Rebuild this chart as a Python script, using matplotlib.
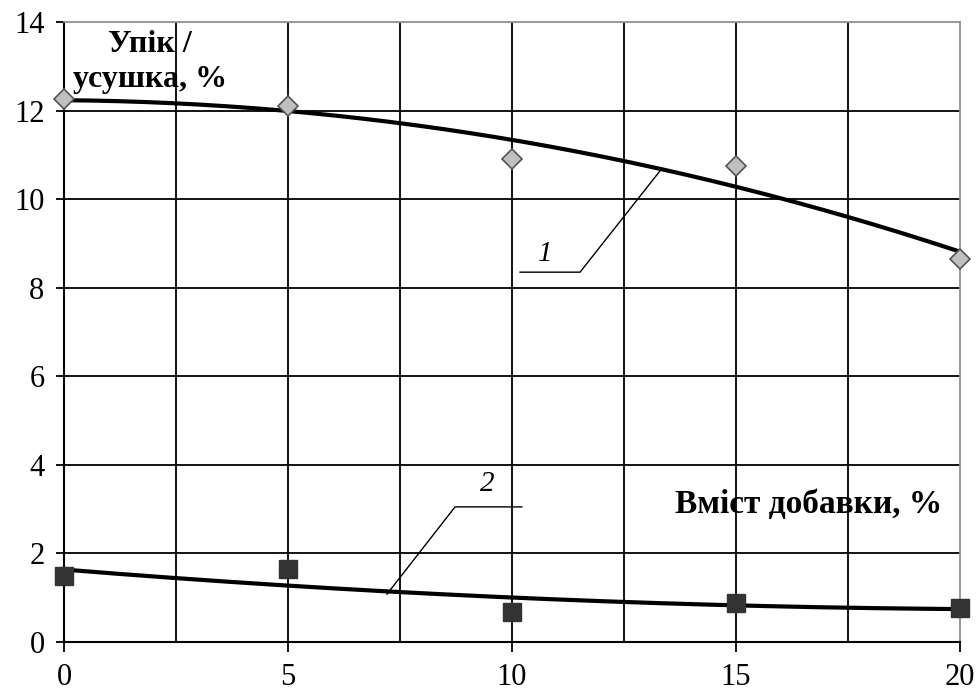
import numpy as np
import matplotlib.pyplot as plt

plt.rcParams['font.family'] = ['Liberation Serif', 'DejaVu Serif']

dobavka = [0, 5, 10, 15, 20]
upik = [12.25, 12.1, 10.9, 10.75, 8.65]
usushka = [1.5, 1.65, 0.68, 0.88, 0.77]

fig = plt.figure(figsize=(9.77, 6.92), dpi=100)
ax = fig.add_axes([0.0655, 0.0723, 0.917, 0.896])

# grid
for yy in np.arange(2, 14, 2):
	ax.axhline(yy, color='black', lw=1.3, zorder=1)
for xx in np.arange(2.5, 20, 2.5):
	ax.axvline(xx, color='black', lw=1.3, zorder=1)

# trend lines (polynomial, order 2)
xs = np.linspace(0, 20, 200)
ax.plot(xs, np.poly1d(np.polyfit(dobavka, upik, 2))(xs), color='black', lw=3, zorder=3)
ax.plot(xs, np.poly1d(np.polyfit(dobavka, usushka, 2))(xs), color='black', lw=3, zorder=3)

ax.plot(dobavka, upik, 'D', ms=10, mfc='#c0c0c0', mec='#555555', mew=1.2, clip_on=False, zorder=4)
ax.plot(dobavka, usushka, 's', ms=13.5, mfc='#333333', mec='#333333', clip_on=False, zorder=4)

# leader lines
ax.plot([10.18, 11.52, 13.3], [8.35, 8.35, 10.63], color='black', lw=1, zorder=2)
ax.text(10.75, 8.75, '1', fontsize=21, fontstyle='italic', ha='center', va='center')
ax.plot([7.21, 8.73, 10.22], [1.08, 3.05, 3.05], color='black', lw=1, zorder=2)
ax.text(9.45, 3.56, '2', fontsize=21, fontstyle='italic', ha='center', va='center')

ax.text(1.92, 13.5, 'Упік /', fontsize=23, fontweight='bold', ha='center', va='center')
ax.text(1.92, 12.7, 'усушка, %', fontsize=23, fontweight='bold', ha='center', va='center')
ax.text(19.6, 3.1, 'Вміст добавки, %', fontsize=24, fontweight='bold', ha='right', va='center')

ax.set_xlim(0, 20)
ax.set_ylim(0, 14)
ax.set_xticks([0, 5, 10, 15, 20])
ax.set_yticks(np.arange(0, 15, 2))
ax.tick_params(axis='both', labelsize=22, width=1.3, color='black')
ax.tick_params(axis='x', length=7, pad=8)
ax.tick_params(axis='y', length=6, pad=8)

ax.spines['left'].set_linewidth(1.5)
ax.spines['bottom'].set_linewidth(1.5)
ax.spines['top'].set_color('#909090')
ax.spines['right'].set_color('#909090')
ax.spines['top'].set_linewidth(1.3)
ax.spines['right'].set_linewidth(1.3)

plt.savefig('out.png')
